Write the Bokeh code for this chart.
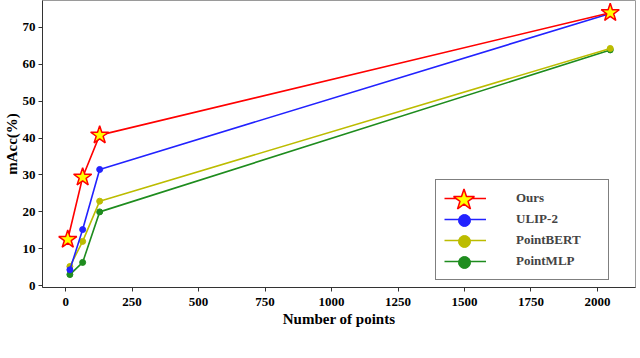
from bokeh.plotting import figure
from bokeh.models import Legend, LegendItem, ColumnDataSource, FixedTicker, Range1d
from bokeh.embed import file_html
from bokeh.resources import INLINE

# data
ours_x = [8, 64, 128, 2048]
ours_y = [12.5, 29.4, 40.8, 74.0]
pts_x = [16, 64, 128, 2048]
ulip_y = [4.3, 15.2, 31.5, 73.8]
bert_y = [5.2, 12.0, 22.9, 64.3]
mlp_y = [3.0, 6.3, 20.0, 63.9]
x_ticks = [0, 250, 500, 750, 1000, 1250, 1500, 1750, 2000]
y_ticks = [0, 10, 20, 30, 40, 50, 60, 70]

FONT = "Liberation Serif"

p = figure(frame_width=593, frame_height=287, output_backend="svg", toolbar_location=None,
           x_range=Range1d(-87, 2143), y_range=Range1d(-0.5, 77.3),
           min_border_left=30, min_border_right=4, min_border_top=0, min_border_bottom=10)
p.xgrid.visible = False
p.ygrid.visible = False
p.outline_line_color = "#9a9a9a"
p.outline_line_width = 1
p.background_fill_color = "white"
p.border_fill_color = "white"

for ax in (p.xaxis[0], p.yaxis[0]):
    ax.axis_line_color = "#333333"
    ax.major_tick_line_color = "#333333"
    ax.minor_tick_line_color = None
    ax.major_tick_out = 4
    ax.major_tick_in = 0
    ax.major_label_text_font = FONT
    ax.major_label_text_font_style = "bold"
    ax.major_label_text_font_size = "13px"
    ax.major_label_text_color = "black"
    ax.axis_label_text_font = FONT
    ax.axis_label_text_font_style = "bold"
    ax.axis_label_text_font_size = "15px"
    ax.axis_label_text_color = "black"

p.xaxis.ticker = FixedTicker(ticks=x_ticks)
p.yaxis.ticker = FixedTicker(ticks=y_ticks)
p.xaxis.axis_label = "Number of points"
p.yaxis.axis_label = "mAcc(%)"
p.xaxis.major_label_standoff = 6
p.xaxis.axis_label_standoff = 2
p.yaxis.major_label_standoff = 3
p.yaxis.axis_label_standoff = 0

RED = "#ff0000"
BLUE = "#2222ff"
YEL = "#bcbc00"
GRN = "#1e8c1e"

src_o = ColumnDataSource(dict(x=ours_x, y=ours_y))
src_u = ColumnDataSource(dict(x=pts_x, y=ulip_y))
src_b = ColumnDataSource(dict(x=pts_x, y=bert_y))
src_m = ColumnDataSource(dict(x=pts_x, y=mlp_y))

lm = p.line("x", "y", source=src_m, color=GRN, line_width=1.6)
sm = p.scatter("x", "y", source=src_m, marker="circle", size=6, color=GRN)
lb = p.line("x", "y", source=src_b, color=YEL, line_width=1.6)
sb = p.scatter("x", "y", source=src_b, marker="circle", size=6, color=YEL)
lu = p.line("x", "y", source=src_u, color=BLUE, line_width=1.6)
su = p.scatter("x", "y", source=src_u, marker="circle", size=6, color=BLUE)
lo = p.line("x", "y", source=src_o, color=RED, line_width=1.6)
so = p.scatter("x", "y", source=src_o, marker="star", size=19, fill_color="#ffff00",
               line_color=RED, line_width=1.5)

# legend-only proxies, NaN so nothing is drawn in the plot
def proxy(marker, fill, line, lw=1.0):
    s = ColumnDataSource(dict(x=[float("nan")], y=[float("nan")]))
    return p.scatter("x", "y", source=s, marker=marker, size=10,
                     fill_color=fill, line_color=line, line_width=lw)

labels = ["Ours", "ULIP-2", "PointBERT", "PointMLP"]
line_rs = [lo, lu, lb, lm]
marker_rs = [proxy("star", "#ffff00", RED, 1.5), proxy("circle", BLUE, BLUE),
             proxy("circle", YEL, YEL), proxy("circle", GRN, GRN)]
marker_boxes = [55, 30, 30, 30]  # legend draws markers at 0.4 * box size

LX, LY, PAD, GW, GH, SP = 393, 7, 8, 42, 20, 1
legend = Legend(items=[LegendItem(label=l, renderers=[r]) for l, r in zip(labels, line_rs)],
                location=(LX, LY))
legend.border_line_color = "black"
legend.border_line_width = 1.5
legend.background_fill_alpha = 1
legend.label_text_font = FONT
legend.label_text_font_style = "bold"
legend.label_text_font_size = "13px"
legend.glyph_width = GW
legend.glyph_height = GH
legend.label_height = GH
legend.spacing = SP
legend.padding = PAD
legend.margin = 0
legend.label_standoff = 30
legend.label_width = 84
p.add_layout(legend, "center")

# overlay legends drawing only the bigger markers of each row
legend_h = 2 * PAD + 4 * GH + 3 * SP
cx = LX + PAD + GW / 2
for i, (lab, mr, G) in enumerate(zip(labels, marker_rs, marker_boxes)):
    cy = LY + legend_h - PAD - GH / 2 - i * (GH + SP)
    ov = Legend(items=[LegendItem(label=lab, renderers=[mr])],
                location=(int(round(cx - G / 2)), int(round(cy - G / 2))))
    ov.border_line_color = None
    ov.background_fill_alpha = 0
    ov.label_text_alpha = 0
    ov.label_text_font_size = "1px"
    ov.label_width = 0
    ov.label_standoff = 0
    ov.glyph_width = G
    ov.glyph_height = G
    ov.label_height = G
    ov.padding = 0
    ov.margin = 0
    p.add_layout(ov, "center")

open("out.html", "w").write(file_html(p, INLINE))
